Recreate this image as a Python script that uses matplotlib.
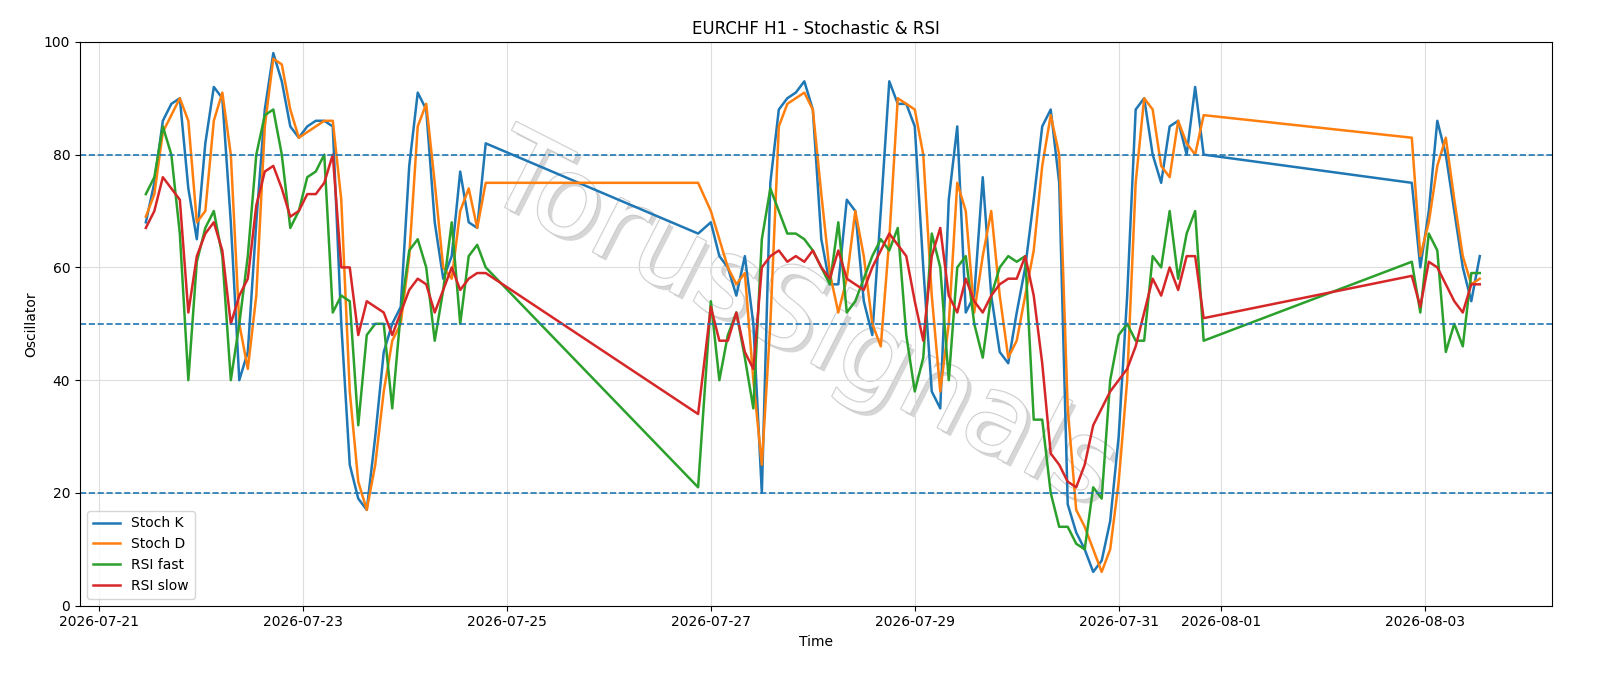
import numpy as np
import pandas as pd
import matplotlib
matplotlib.use("Agg")
import matplotlib.pyplot as plt
import matplotlib.dates as mdates
import matplotlib.patheffects as pe

# hourly timestamps (hours after 2026-07-21 00:00), three trading stretches
start = pd.Timestamp("2026-07-21 00:00")
hours = list(range(11, 92, 2)) + [141] + list(range(144, 261, 2)) + list(range(309, 326, 2))

stoch_k = [68, 75, 86, 89, 90, 74, 65, 82, 92, 90, 68, 40, 45, 68, 88, 98, 93, 85, 83, 85,
           86, 86, 85, 50, 25, 19, 17, 30, 45, 50, 53, 78, 91, 88, 68, 58, 62, 77, 68, 67, 82,
           66,
           68, 62, 60, 55, 62, 50, 20, 75, 88, 90, 91, 93, 88, 65, 57, 57, 72, 70, 54, 48,
           70, 93, 89, 89, 85, 60, 38, 35, 72, 85, 52, 55, 76, 55, 45, 43, 52, 60, 72, 85,
           88, 75, 18, 13, 10, 6, 8, 15, 30, 55, 88, 90, 80, 75, 85, 86, 80, 92, 80,
           75, 60, 70, 86, 80, 70, 60, 54, 62]
stoch_d = [69, 73, 84, 87, 90, 86, 68, 70, 86, 91, 80, 50, 42, 55, 85, 97, 96, 88, 83, 84,
           85, 86, 86, 72, 38, 22, 17, 25, 38, 47, 50, 62, 85, 89, 75, 60, 58, 70, 74, 67, 75,
           75,
           70, 65, 60, 57, 59, 40, 25, 50, 85, 89, 90, 91, 88, 73, 59, 52, 58, 70, 62, 50,
           46, 65, 90, 89, 88, 80, 55, 38, 50, 75, 70, 52, 62, 70, 55, 44, 47, 55, 63, 78,
           87, 80, 35, 17, 14, 10, 6, 10, 22, 40, 75, 90, 88, 78, 76, 86, 82, 80, 87,
           83, 62, 68, 78, 83, 72, 62, 57, 58]
rsi_fast = [73, 76, 85, 80, 66, 40, 61, 67, 70, 62, 40, 50, 62, 80, 87, 88, 80, 67, 70, 76,
            77, 80, 52, 55, 54, 32, 48, 50, 50, 35, 52, 63, 65, 60, 47, 56, 68, 50, 62, 64, 60,
            21,
            54, 40, 48, 52, 44, 35, 65, 74, 70, 66, 66, 65, 63, 60, 57, 68, 52, 54, 58, 62,
            65, 63, 67, 48, 38, 44, 66, 60, 40, 60, 62, 50, 44, 55, 60, 62, 61, 62, 33, 33,
            20, 14, 14, 11, 10, 21, 19, 40, 48, 50, 47, 47, 62, 60, 70, 58, 66, 70, 47,
            61, 52, 66, 63, 45, 50, 46, 59, 59]
rsi_slow = [67, 70, 76, 74, 72, 52, 62, 66, 68, 63, 50, 55, 58, 71, 77, 78, 74, 69, 70, 73,
            73, 75, 80, 60, 60, 48, 54, 53, 52, 48, 52, 56, 58, 57, 52, 56, 60, 56, 58, 59, 59,
            34,
            53, 47, 47, 52, 45, 42, 60, 62, 63, 61, 62, 61, 63, 60, 58, 63, 58, 57, 56, 60,
            63, 66, 64, 62, 54, 47, 62, 67, 55, 52, 58, 54, 52, 55, 57, 58, 58, 62, 55, 43,
            27, 25, 22, 21, 25, 32, 35, 38, 40, 42, 46, 52, 58, 55, 60, 56, 62, 62, 51,
            58.5, 53, 61, 60, 57, 54, 52, 57, 57]

times = [start + pd.Timedelta(hours=h) for h in hours]

fig, ax = plt.subplots(figsize=(16, 6.86), dpi=100)
fig.subplots_adjust(left=0.05, right=0.97, top=0.939, bottom=0.117)

ax.text(0.49, 0.5, "TorusSignals", transform=ax.transAxes, fontsize=80,
        color="white", alpha=0.9, rotation=-27, ha="center", va="center",
        path_effects=[pe.withSimplePatchShadow(offset=(3, -3), shadow_rgbFace="#cccccc", alpha=0.8),
                      pe.withStroke(linewidth=1.5, foreground="#c8c8c8")], zorder=0)

ax.plot(times, stoch_k, label="Stoch K", color="#1f77b4", lw=1.8)
ax.plot(times, stoch_d, label="Stoch D", color="#ff7f0e", lw=1.8)
ax.plot(times, rsi_fast, label="RSI fast", color="#2ca02c", lw=1.8)
ax.plot(times, rsi_slow, label="RSI slow", color="#d62728", lw=1.8)

for lvl in (80, 50, 20):
    ax.axhline(lvl, color="#1f77b4", ls="--", lw=1.2)

ax.set_ylim(0, 100)
ax.set_xlim(pd.Timestamp("2026-07-20 19:30"), pd.Timestamp("2026-08-04 06:00"))
ticks = pd.to_datetime(["2026-07-21", "2026-07-23", "2026-07-25", "2026-07-27",
                        "2026-07-29", "2026-07-31", "2026-08-01", "2026-08-03"])
ax.set_xticks(ticks)
ax.xaxis.set_major_formatter(mdates.DateFormatter("%Y-%m-%d"))
ax.grid(True, color="#dddddd", lw=0.8)
ax.set_xlabel("Time")
ax.set_ylabel("Oscillator")
ax.set_title("EURCHF H1 - Stochastic & RSI")
ax.legend(loc="lower left")

fig.savefig("out.png", dpi=100)
